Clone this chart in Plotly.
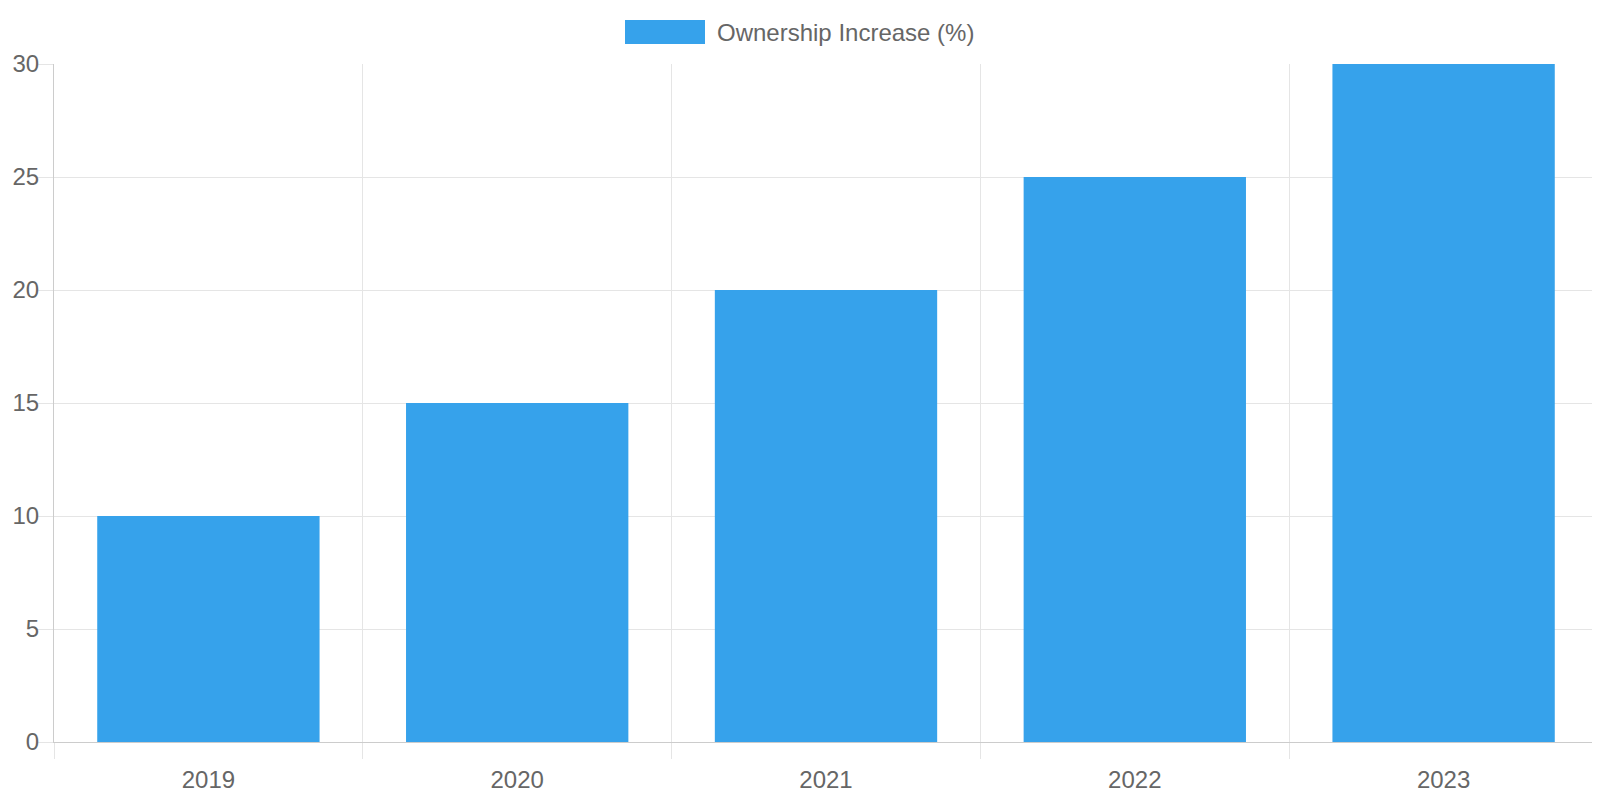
import plotly.graph_objects as go

# Data
years = ['2019', '2020', '2021', '2022', '2023']
ownership_increase = [10, 15, 20, 25, 30]
series_name = 'Ownership Increase (%)'

bar_color = '#36A2EB'
grid_color = '#e5e5e5'
text_color = '#666666'
font_family = 'Liberation Sans, Arial, sans-serif'

# page has an 8px body margin, so the figure is sized to fit inside it
OFF = 8
W, H = 1600 - OFF, 800 - 2 * OFF
ml, mr, mt, mb = 54 - OFF, 2, 64 - OFF, 50
pw, ph = W - ml - mr, H - mt - mb


def px_x(x):
    return (x - OFF - ml) / pw


def px_y(y):
    return (H - mb - (y - OFF)) / ph


fig = go.Figure()

fig.add_trace(go.Bar(
    x=years,
    y=ownership_increase,
    name=series_name,
    marker=dict(color=bar_color, line=dict(width=0)),
    width=0.72,
    showlegend=False,
))

# Chart.js-style legend: wide colour box plus label
fig.add_shape(
    type='rect', xref='paper', yref='paper',
    x0=px_x(625), x1=px_x(705), y0=px_y(44), y1=px_y(20),
    fillcolor=bar_color, line=dict(width=0),
)
fig.add_annotation(
    text=series_name, xref='paper', yref='paper',
    x=px_x(715), y=px_y(32), xanchor='left', yanchor='middle',
    showarrow=False, font=dict(size=24, color=text_color, family=font_family),
)

fig.update_layout(
    width=W, height=H,
    margin=dict(l=ml, r=mr, t=mt, b=mb),
    plot_bgcolor='white',
    paper_bgcolor='white',
    font=dict(family=font_family, size=24, color=text_color),
    bargap=0.28,
)

fig.update_xaxes(
    type='category',
    tickson='boundaries',
    automargin=False,
    showgrid=True, gridcolor=grid_color, gridwidth=1,
    ticks='outside', ticklen=16, tickcolor=grid_color,
    showline=True, linecolor='#cccccc', linewidth=1,
    ticklabelstandoff=16,
)

# labels pulled in a little so they stay inside the figure
fig.update_yaxes(
    range=[0, 30], dtick=5,
    automargin=False,
    showgrid=True, gridcolor=grid_color, gridwidth=1,
    zeroline=False,
    ticks='outside', ticklen=16, tickcolor=grid_color,
    showline=True, linecolor='#cccccc', linewidth=1,
    ticklabelstandoff=-7,
)

fig.write_html('out.html')
